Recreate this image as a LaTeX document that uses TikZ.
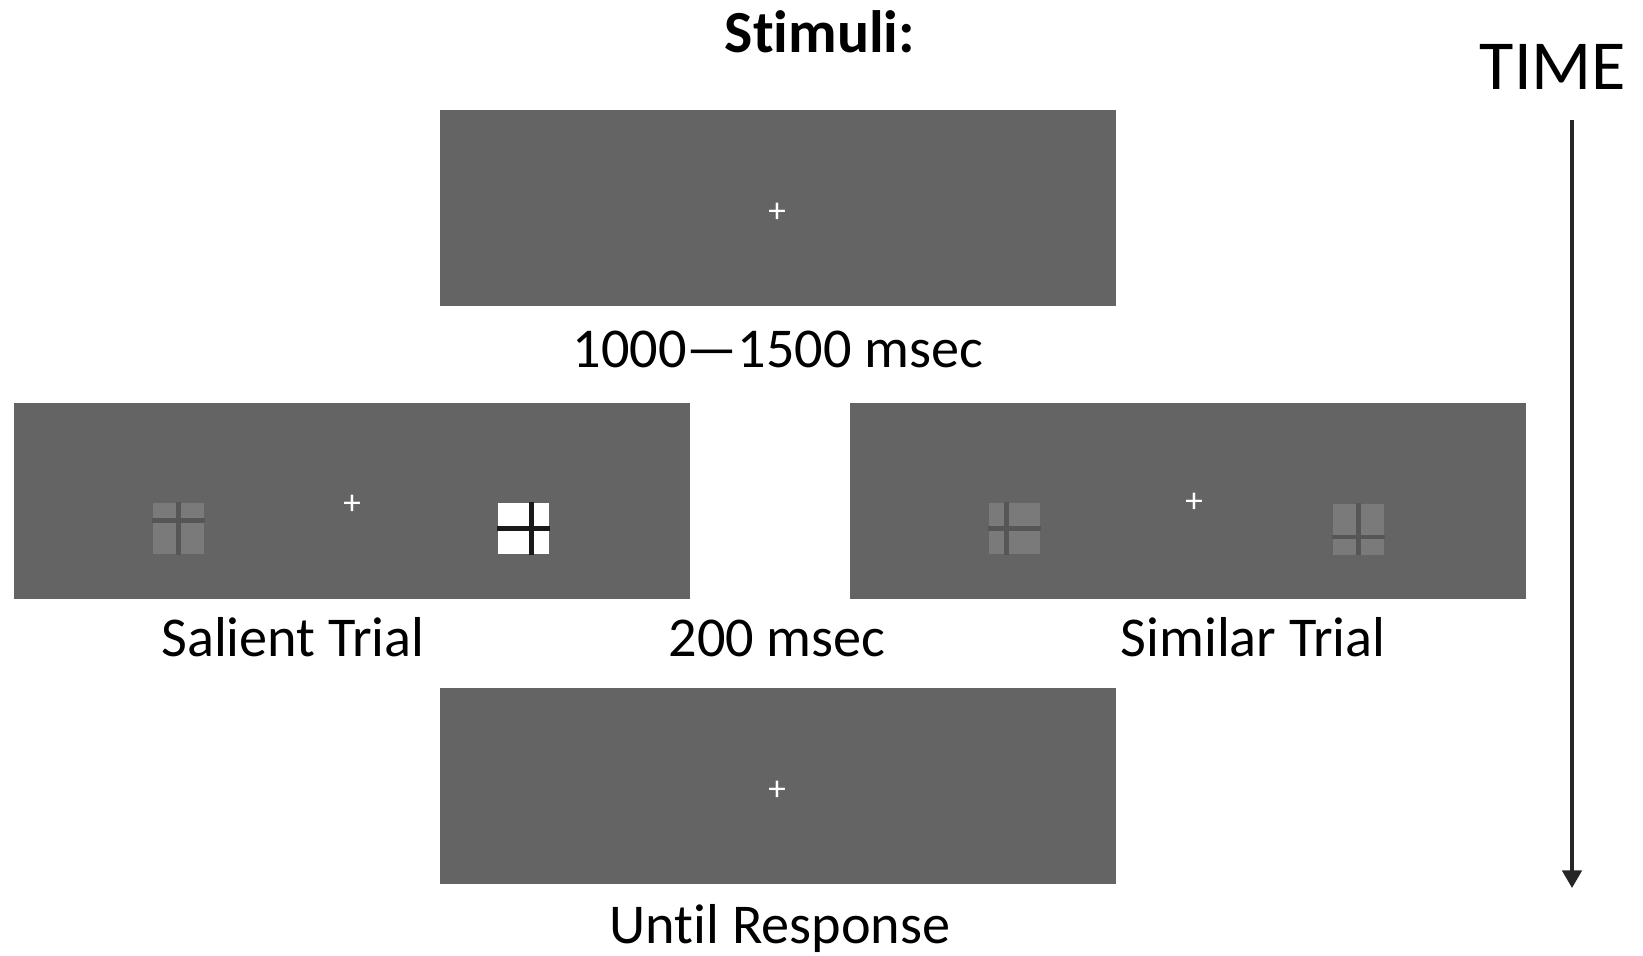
\documentclass[tikz,border=0pt]{standalone}
\usepackage{fontspec}
\setmainfont{Carlito}[RawFeature={-liga;-clig;-calt;-dlig}]
\usetikzlibrary{arrows.meta, positioning, calc}

\definecolor{screengray}{HTML}{646464}
\definecolor{patchgray}{HTML}{7A7A7A}
\definecolor{gapgray}{HTML}{565656}

\begin{document}
\begin{tikzpicture}[
    screen/.style={rectangle, fill=screengray, minimum width=6.76cm,
                   minimum height=1.96cm, inner sep=0pt},
    lbl/.style={font=\fontsize{16}{19}\selectfont, anchor=base, inner sep=0pt},
    fix/.style={text=white, font=\fontsize{10}{12}\selectfont, inner sep=0pt},
    patch/.style={rectangle, minimum size=0.51cm, inner sep=0pt},
    gap/.style={line width=1.3pt, draw=gapgray},
    arrow/.style={-{Triangle[length=5pt, width=5.5pt]}, line width=1pt, draw=black!85},
]
\useasboundingbox (0,0) rectangle (16.43,-9.55);

% Title and time axis
\node[font=\fontsize{17}{20}\selectfont\bfseries, anchor=base] (title) at (8.20,-0.52) {Stimuli:};
\node[font=\fontsize{20}{24}\selectfont, anchor=base] (time) at (15.53,-0.89) {TIME};
\coordinate (t0) at (15.72,-1.20);
\coordinate (t1) at (15.72,-8.88);
\draw[arrow] (t0) -- (t1);

% Fixation screen
\node[screen] (fixscr) at (7.78,-2.08) {};
\node[fix] (fix1) at ($(fixscr.center)+(-0.01,-0.05)$) {+};
\node[lbl] (lfix) at ($(fixscr.south)+(0,-0.61)$) {1000—1500 msec};

% Salient trial
\node[screen] (salient) at (3.52,-5.005) {};
\node[fix] (fix2) at ($(salient.center)+(0,-0.045)$) {+};
\node[patch, fill=patchgray] (sal1) at (1.785,-5.285) {};
\draw[gap] (sal1.north) -- (sal1.south);
\draw[gap] ($(sal1.north west)!0.35!(sal1.south west)$) -- ($(sal1.north east)!0.35!(sal1.south east)$);
\node[patch, fill=white] (sal2) at (5.235,-5.285) {};
\draw[gap, draw=black!90] ($(sal2.north west)!0.65!(sal2.north east)$) -- ($(sal2.south west)!0.65!(sal2.south east)$);
\draw[gap, draw=black!90] (sal2.west) -- (sal2.east);
\node[lbl] (lsal) at ($(salient.south)+(-0.59,-0.57)$) {Salient Trial};

% Similar trial
\node[screen] (similar) at (11.875,-5.005) {};
\node[fix] (fix3) at ($(similar.center)+(0.065,-0.025)$) {+};
\node[patch, fill=patchgray] (sim1) at (10.145,-5.285) {};
\draw[gap] ($(sim1.north west)!0.35!(sim1.north east)$) -- ($(sim1.south west)!0.35!(sim1.south east)$);
\draw[gap] (sim1.west) -- (sim1.east);
\node[patch, fill=patchgray] (sim2) at (13.585,-5.29) {};
\draw[gap] (sim2.north) -- (sim2.south);
\draw[gap] ($(sim2.north west)!0.65!(sim2.south west)$) -- ($(sim2.north east)!0.65!(sim2.south east)$);
\node[lbl] (lsim) at ($(similar.south)+(0.655,-0.57)$) {Similar Trial};

\node[lbl] (ldur) at (7.77,-6.56) {200 msec};

% Response screen
\node[screen] (resp) at (7.78,-7.855) {};
\node[fix] (fix4) at ($(resp.center)+(-0.01,-0.055)$) {+};
\node[lbl] (lresp) at ($(resp.south)+(0.02,-0.59)$) {Until Response};

\end{tikzpicture}
\end{document}
